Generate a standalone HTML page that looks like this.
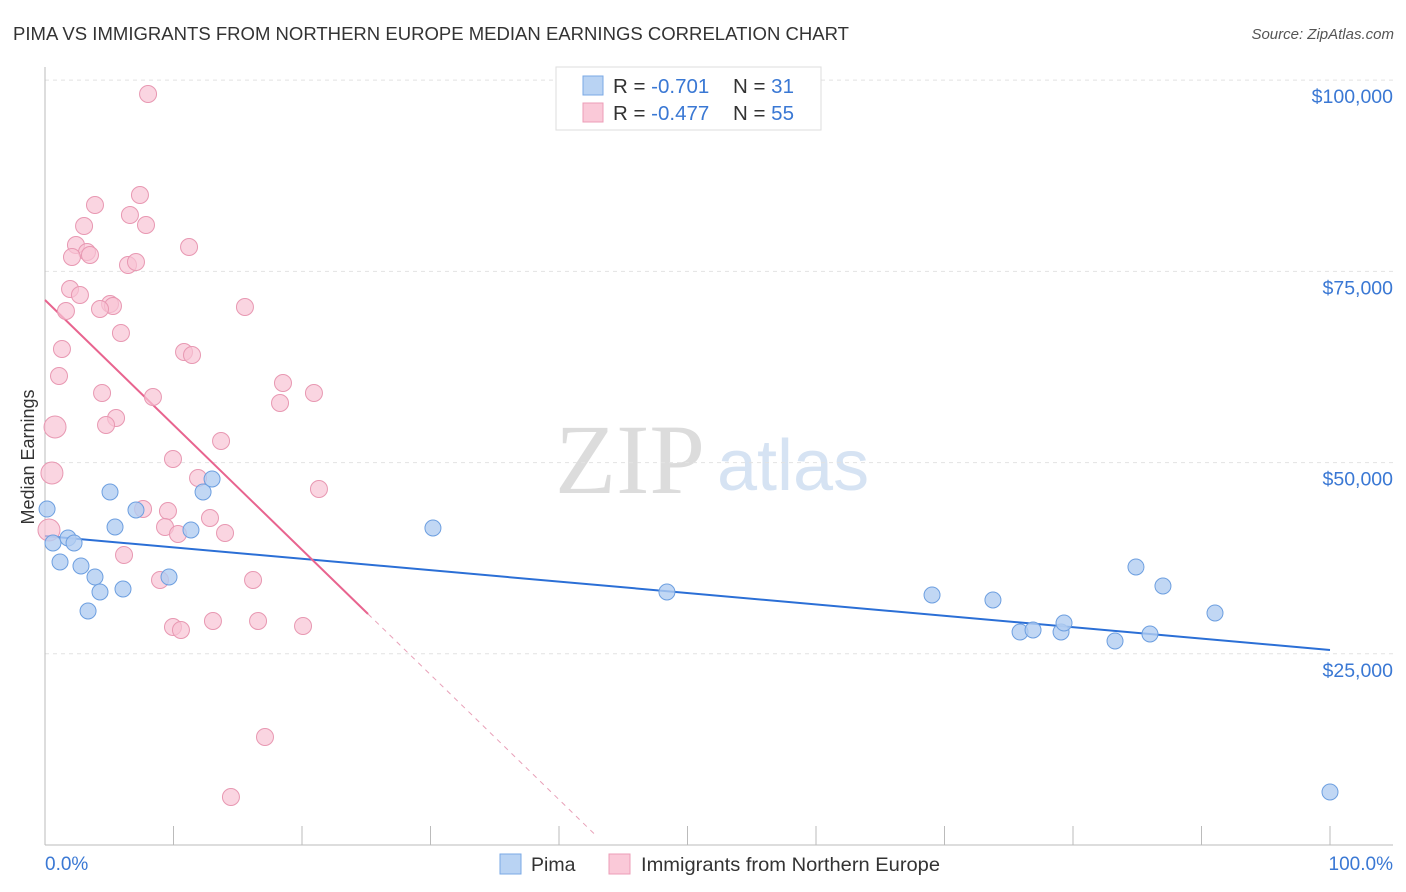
<!DOCTYPE html>
<html><head><meta charset="utf-8"><style>
body{margin:0;background:#fff;font-family:"Liberation Sans",sans-serif;}
svg{display:block}
</style></head><body>
<svg id="chart" width="1406" height="892">
<text x="13" y="40" font-size="18" fill="#333" textLength="836" lengthAdjust="spacingAndGlyphs">PIMA VS IMMIGRANTS FROM NORTHERN EUROPE MEDIAN EARNINGS CORRELATION CHART</text>
<text x="1394" y="39" font-size="15" fill="#555" font-style="italic" text-anchor="end">Source: ZipAtlas.com</text>
<text x="555" y="493" font-size="100" fill="#dcdcdc" font-family="Liberation Serif,serif">ZIP</text>
<text x="717" y="490" font-size="72" fill="#d6e3f3">atlas</text>
<g id="grid"></g><g id="axes"></g><g id="lines"></g><g id="pts"></g>
<text transform="translate(34,457) rotate(-90)" font-size="18" fill="#333" text-anchor="middle">Median Earnings</text>
<text x="45" y="870" font-size="19" fill="#3a78d4">0.0%</text>
<text x="1393" y="870" font-size="19" fill="#3a78d4" text-anchor="end">100.0%</text>
<g>
<rect x="556" y="67" width="265" height="63" fill="#fff" stroke="#ddd"/>
<rect x="583" y="76" width="20" height="19" fill="#b9d3f3" stroke="#7aa8e6"/>
<rect x="583" y="103" width="20" height="19" fill="#fac9d8" stroke="#ec9db7"/>
<text x="613" y="93" font-size="20.5" fill="#333">R = <tspan fill="#3a78d4">-0.701</tspan><tspan x="733">N = </tspan><tspan fill="#3a78d4"> 31</tspan></text>
<text x="613" y="120" font-size="20.5" fill="#333">R = <tspan fill="#3a78d4">-0.477</tspan><tspan x="733">N = </tspan><tspan fill="#3a78d4">55</tspan></text>
</g>
<g>
<rect x="500" y="854" width="21" height="20" fill="#b9d3f3" stroke="#7aa8e6"/>
<text x="531" y="871" font-size="19.5" fill="#333">Pima</text>
<rect x="609" y="854" width="21" height="20" fill="#fac9d8" stroke="#ec9db7"/>
<text x="641" y="871" font-size="19.5" fill="#333" textLength="299" lengthAdjust="spacingAndGlyphs">Immigrants from Northern Europe</text>
</g>
</svg>
<script>
const yTicks=[25000,50000,75000,100000];
const yTickLabels=["$25,000","$50,000","$75,000","$100,000"];
const xTicks=[0,10,20,30,40,50,60,70,80,90,100];
const pimaX=[0.16,0.62,1.17,1.79,2.26,2.80,3.35,3.89,4.28,5.06,5.45,6.07,7.08,9.65,11.36,12.30,13.00,30.19,48.40,69.03,73.77,75.88,76.89,79.07,79.30,83.27,84.90,85.99,87.00,91.05,100];
const pimaY=[43930,39487,37002,40140,39487,36479,30596,35041,33080,46155,41579,33472,43801,35041,41186,46155,47855,41448,33080,32688,32034,27850,28111,27850,29027,26673,36349,27588,33864,30334,6930];
const immX=[8.02,7.39,3.89,6.61,3.04,7.86,2.41,11.21,3.27,2.10,3.50,6.46,7.08,1.95,2.72,5.06,5.29,4.28,1.63,15.56,5.91,1.32,10.82,11.44,1.09,18.52,4.44,8.40,20.93,18.29,5.53,0.78,4.75,13.70,9.96,0.54,11.91,21.32,7.63,9.57,12.84,9.34,10.35,14.01,0.31,6.15,8.95,16.19,9.96,10.58,13.07,16.58,20.08,17.12,14.47];
const immY=[98193,84988,83680,82373,80934,81065,78450,78189,77535,76881,77143,75835,76227,72697,71913,70736,70474,70082,69821,70344,66944,64852,64460,64068,61322,60407,59099,58576,59099,57792,55830,54654,54915,52823,50470,48639,47985,46547,43932,43671,42755,41579,40663,40794,41186,37918,34649,34649,28504,28111,29288,29288,28634,14121,6276];
const pimaFit=[40402,-149.06];
const immFit=[71259,-1633];
const immFitSolidEnd=25.14, immFitDashEnd=42.8;
const X=v=>45+v*12.85, Y=v=>845-v/130.75;
const NS="http://www.w3.org/2000/svg";
function mk(p,t,a){const e=document.createElementNS(NS,t);for(const k in a)e.setAttribute(k,a[k]);document.getElementById(p).appendChild(e);return e;}
yTicks.forEach((t,i)=>{
 const g=mk('grid','line',{x1:45,x2:1393,y1:Y(t),y2:Y(t),stroke:'#e2e2e2','stroke-dasharray':'4,4'});
 
 
 const l=mk('grid','text',{x:1393,y:Y(t)+23,'font-size':19.5,fill:'#3a78d4','text-anchor':'end'});
 l.textContent=yTickLabels[i];
 
 
});
const ax=mk('axes','line',{x1:45,x2:1393,y1:845,y2:845,stroke:'#bbb'});


const ay=mk('axes','line',{x1:45,x2:45,y1:67,y2:845,stroke:'#bbb'});


xTicks.forEach(t=>{const k=mk('axes','line',{x1:X(t),x2:X(t),y1:826,y2:845,stroke:'#bbb'});
 
 });
const pl=mk('lines','line',{x1:X(0),y1:Y(pimaFit[0]),x2:X(100),y2:Y(pimaFit[0]+pimaFit[1]*100),stroke:'#2b6fd6','stroke-width':2});


const il=mk('lines','line',{x1:X(0),y1:Y(immFit[0]),x2:X(immFitSolidEnd),y2:Y(immFit[0]+immFit[1]*immFitSolidEnd),stroke:'#e8648f','stroke-width':2});


const id=mk('lines','line',{x1:X(immFitSolidEnd),y1:Y(immFit[0]+immFit[1]*immFitSolidEnd),x2:X(immFitDashEnd),y2:Y(immFit[0]+immFit[1]*immFitDashEnd),stroke:'#e8a0b8','stroke-width':1,'stroke-dasharray':'5,5'});


immX.forEach((x,i)=>{const r=x<1?11:8.5;
 const c=mk('pts','circle',{cx:X(x),cy:Y(immY[i]),r:r,fill:'#f8c3d4','fill-opacity':0.7,stroke:'#e898b2','stroke-width':1});
 
 });
pimaX.forEach((x,i)=>{
 const c=mk('pts','circle',{cx:X(x),cy:Y(pimaY[i]),r:8,fill:'#b2cdf1','fill-opacity':0.8,stroke:'#6d9fe0','stroke-width':1});
 
 });
</script>
</body></html>
